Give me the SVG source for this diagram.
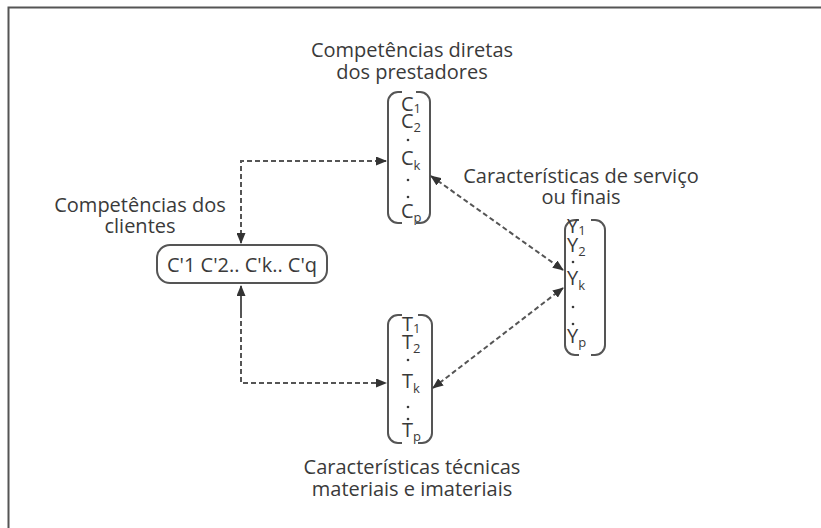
<svg xmlns="http://www.w3.org/2000/svg" width="821" height="528" viewBox="0 0 821 528">
<style>
.t{font-family:"Open Sans","Liberation Sans",sans-serif;font-size:20px;fill:#3a3a3a}
.lab{text-anchor:middle}
.sub{font-size:13px}
.br{fill:none;stroke:#555;stroke-width:2}
.dash{fill:none;stroke:#555;stroke-width:2;stroke-dasharray:5 3}
.solid{fill:none;stroke:#555;stroke-width:2}
.dot{fill:#3a3a3a}
</style>
<defs>
<marker id="ah" markerUnits="userSpaceOnUse" markerWidth="11" markerHeight="9" refX="10" refY="4.5" orient="auto-start-reverse">
<path d="M0,0 L11,4.5 L0,9 z" fill="#333"/>
</marker>
</defs>
<rect width="821" height="528" fill="#fff"/>
<path d="M8.5,528 V7.5 H821" class="solid"/>

<g id="labels">
<text class="t lab" x="412" y="57">Competências diretas</text>
<text class="t lab" x="412" y="79">dos prestadores</text>
<text class="t lab" x="140" y="212">Competências dos</text>
<text class="t lab" x="140" y="233">clientes</text>
<text class="t lab" x="581" y="183">Características de serviço</text>
<text class="t lab" x="581" y="204">ou finais</text>
<text class="t lab" x="412" y="474">Características técnicas</text>
<text class="t lab" x="412" y="496">materiais e imateriais</text>
</g>

<g id="node-clientes">
<rect x="157" y="245" width="170" height="38" rx="13" class="br"/>
<text class="t" x="242" y="272" text-anchor="middle">C'1 C'2.. C'k.. C'q</text>
</g>

<g id="node-C">
<path class="br" d="M402,92 H398 A10,10 0 0 0 388,102 V213 A10,10 0 0 0 398,223 H402"/>
<path class="br" d="M416,92 H420 A10,10 0 0 1 430,102 V213 A10,10 0 0 1 420,223 H416"/>
<text class="t"><tspan x="401" y="111">C</tspan><tspan class="sub" dy="2">1</tspan><tspan x="401" y="128">C</tspan><tspan class="sub" dy="4">2</tspan><tspan x="401" y="165">C</tspan><tspan class="sub" dy="5">k</tspan><tspan x="401" y="218">C</tspan><tspan class="sub" dy="4">p</tspan></text>
<circle class="dot" cx="408" cy="140" r="1.3"/>
<circle class="dot" cx="408" cy="180" r="1.3"/>
<circle class="dot" cx="408" cy="197" r="1.3"/>
</g>

<g id="node-T">
<path class="br" d="M402,315 H398 A10,10 0 0 0 388,325 V433 A10,10 0 0 0 398,443 H402"/>
<path class="br" d="M418,315 H422 A10,10 0 0 1 432,325 V433 A10,10 0 0 1 422,443 H418"/>
<text class="t"><tspan x="402" y="331">T</tspan><tspan class="sub" dy="2">1</tspan><tspan x="402" y="349">T</tspan><tspan class="sub" dy="4">2</tspan><tspan x="402" y="388">T</tspan><tspan class="sub" dy="5">k</tspan><tspan x="402" y="437">T</tspan><tspan class="sub" dy="4">p</tspan></text>
<circle class="dot" cx="408" cy="360" r="1.3"/>
<circle class="dot" cx="408" cy="407" r="1.3"/>
<circle class="dot" cx="408" cy="419" r="1.3"/>
</g>

<g id="node-Y">
<path class="br" d="M579,220 H575 A10,10 0 0 0 565,230 V345 A10,10 0 0 0 575,355 H579"/>
<path class="br" d="M591,220 H595 A10,10 0 0 1 605,230 V345 A10,10 0 0 1 595,355 H591"/>
<text class="t"><tspan x="567" y="233">Y</tspan><tspan class="sub" dy="2">1</tspan><tspan x="567" y="252">Y</tspan><tspan class="sub" dy="4">2</tspan><tspan x="567" y="285">Y</tspan><tspan class="sub" dy="5">k</tspan><tspan x="567" y="343">Y</tspan><tspan class="sub" dy="4">p</tspan></text>
<circle class="dot" cx="573" cy="262" r="1.3"/>
<circle class="dot" cx="573" cy="307" r="1.3"/>
<circle class="dot" cx="573" cy="324" r="1.3"/>
</g>

<g id="connectors">
<path class="dash" d="M241,243 V161 H386" marker-start="url(#ah)" marker-end="url(#ah)"/>
<path class="solid" d="M241,313 V286" marker-end="url(#ah)"/>
<path class="dash" d="M241,313 V383 H386" marker-end="url(#ah)"/>
<path class="dash" d="M431,176 L563,270" marker-start="url(#ah)" marker-end="url(#ah)"/>
<path class="dash" d="M433,388 L563,288" marker-start="url(#ah)" marker-end="url(#ah)"/>
</g>
</svg>
